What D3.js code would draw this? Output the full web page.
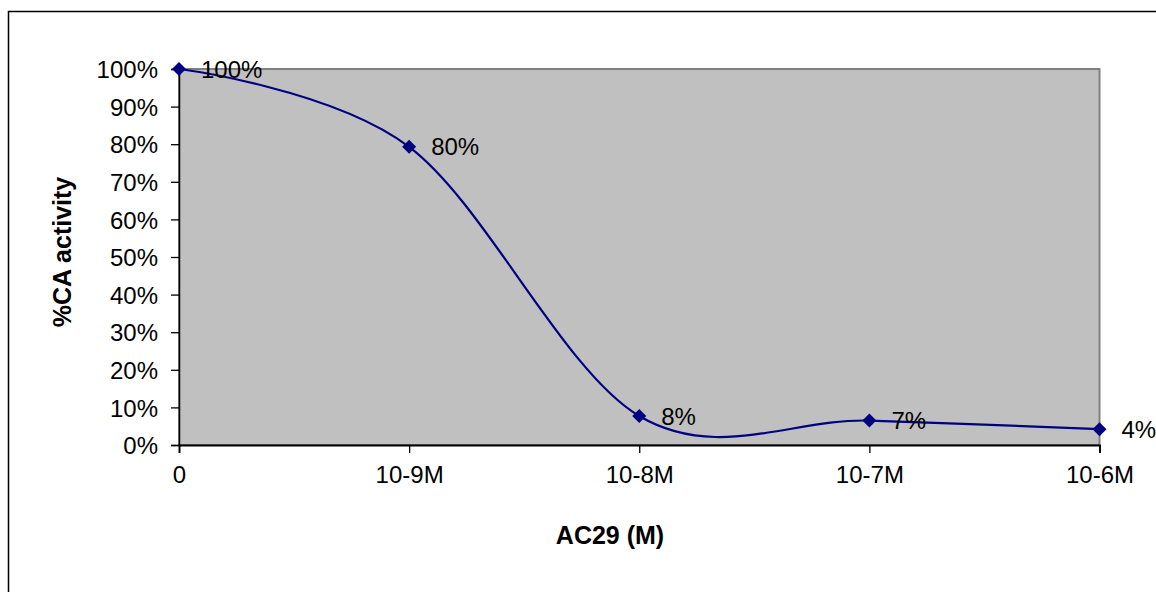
<!DOCTYPE html>
<html>
<head>
<meta charset="utf-8">
<script src="https://cdn.jsdelivr.net/npm/d3@7"></script>
<style>
  html, body { margin: 0; padding: 0; background: #fff; overflow: hidden; }
  svg { display: block; font-family: Arial, "Liberation Sans", sans-serif; }
</style>
</head>
<body>
<svg id="chart" width="1156" height="592"></svg>
<script>
const categories = ["0", "10-9M", "10-8M", "10-7M", "10-6M"];
const values = [1.0, 0.793, 0.077, 0.065, 0.042];
const valueLabels = ["100%", "80%", "8%", "7%", "4%"];
const yTicks = [0, 0.1, 0.2, 0.3, 0.4, 0.5, 0.6, 0.7, 0.8, 0.9, 1.0];
const xTitle = "AC29 (M)";
const yTitle = "%CA activity";

const svg = d3.select("#chart");
const plotLeft = 179, plotRight = 1099.5, plotTop = 69, plotBottom = 445;

// outer chart border (extends beyond window)
svg.append("rect")
  .attr("x", 8.5).attr("y", 11.5)
  .attr("width", 1200).attr("height", 700)
  .attr("fill", "#fff").attr("stroke", "#000").attr("stroke-width", 1.5);

const x = d3.scalePoint().domain(categories).range([plotLeft, plotRight]).padding(0);
const y = d3.scaleLinear().domain([0, 1]).range([plotBottom, plotTop]);

// plot area
svg.append("rect")
  .attr("x", plotLeft).attr("y", plotTop)
  .attr("width", plotRight - plotLeft).attr("height", plotBottom - plotTop)
  .attr("fill", "#C0C0C0").attr("stroke", "#808080").attr("stroke-width", 2);

// y axis
const yAxis = svg.append("g").attr("transform", `translate(${plotLeft},0)`)
  .call(d3.axisLeft(y).tickValues(yTicks).tickFormat(d3.format(".0%")).tickSize(8).tickPadding(13));
yAxis.select(".domain").attr("stroke", "#000").attr("stroke-width", 1.5);
yAxis.selectAll(".tick line").attr("stroke", "#000").attr("stroke-width", 1.3);
yAxis.selectAll(".tick text").attr("font-size", 24).attr("fill", "#000")
  .attr("font-family", "Arial, 'Liberation Sans', sans-serif").attr("dy", "0.36em");

// x axis
const xAxis = svg.append("g").attr("transform", `translate(0,${plotBottom})`)
  .call(d3.axisBottom(x).tickSize(8).tickPadding(13));
xAxis.select(".domain").attr("stroke", "#000").attr("stroke-width", 1.8);
xAxis.selectAll(".tick line").attr("stroke", "#000").attr("stroke-width", 1.3);
xAxis.selectAll(".tick text").attr("font-size", 24).attr("fill", "#000")
  .attr("font-family", "Arial, 'Liberation Sans', sans-serif").attr("dy", "0.71em");

// smoothed line
const data = categories.map((c, i) => ({c, v: values[i], label: valueLabels[i]}));
const line = d3.line().x(d => x(d.c)).y(d => y(d.v)).curve(d3.curveCardinal.tension(0));
svg.append("path").datum(data)
  .attr("d", line).attr("fill", "none")
  .attr("stroke", "#000080").attr("stroke-width", 2.2);

// markers
svg.selectAll(".marker").data(data).enter().append("path")
  .attr("class", "marker")
  .attr("transform", d => `translate(${x(d.c)},${y(d.v)})`)
  .attr("d", "M0,-7L7,0L0,7L-7,0Z")
  .attr("fill", "#000080");

// data labels
svg.selectAll(".dlabel").data(data).enter().append("text")
  .attr("class", "dlabel")
  .attr("x", d => x(d.c) + 22).attr("y", d => y(d.v))
  .attr("dy", "0.36em")
  .attr("font-size", 24).attr("fill", "#000")
  .text(d => d.label);

// axis titles
svg.append("text")
  .attr("x", 610).attr("y", 544)
  .attr("text-anchor", "middle")
  .attr("font-size", 25).attr("font-weight", "bold")
  .text(xTitle);

svg.append("text")
  .attr("transform", "translate(71,252) rotate(-90)")
  .attr("text-anchor", "middle")
  .attr("font-size", 25).attr("font-weight", "bold")
  .text(yTitle);
</script>
</body>
</html>
